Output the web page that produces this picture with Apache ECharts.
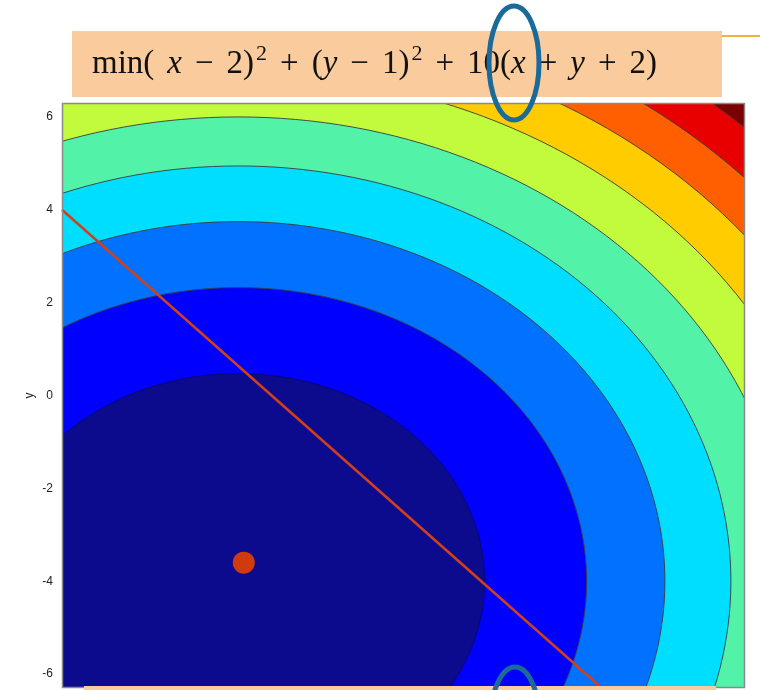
<!DOCTYPE html>
<html>
<head>
<meta charset="utf-8">
<title>min (x-2)^2 + (y-1)^2 + 10(x+y+2)</title>
<script src="https://cdn.jsdelivr.net/npm/echarts@6/dist/echarts.min.js"></script>
<style>
  html, body { margin: 0; padding: 0; background: #ffffff; }
  #chart { width: 760px; height: 690px; }
</style>
</head>
<body>
<div id="chart"></div>
<script>
// Contour levels of f(x, y) = (x+3)^2 + (y+4)^2 and the fill of each band
const contourLevels = [20, 40, 60, 80, 100, 120, 140, 160, 180];
const bandColors = ['#0C0B8E', '#0000FF', '#0072FF', '#00DEFF', '#52F2A8',
                    '#C2FA3C', '#FFCC00', '#FF5F00', '#E80000', '#7A0000'];
// centre of the circular level sets
const contourCentre = [-3, -4];
// marked optimum and the constraint line x + y + 2 = 0
const optimumPoint = [[-2.9, -3.6]];
const constraintLine = [[-6.2, 4.0], [3.6, -6.3]];
// y axis tick labels
const yTickValues = [-6, -4, -2, 0, 2, 4, 6];

const chart = echarts.init(document.getElementById('chart'), null, { renderer: 'canvas' });

function renderContours(params, api) {
  const cs = params.coordSys;
  const children = [{
    type: 'rect',
    shape: { x: cs.x, y: cs.y, width: cs.width, height: cs.height },
    style: { fill: bandColors[bandColors.length - 1] }
  }];
  const c = contourCentre;
  for (let i = contourLevels.length - 1; i >= 0; i--) {
    const r = Math.sqrt(contourLevels[i]);
    const pts = [];
    const n = 240;
    for (let k = 0; k < n; k++) {
      const t = 2 * Math.PI * k / n;
      pts.push(api.coord([c[0] + r * Math.cos(t), c[1] + r * Math.sin(t)]));
    }
    children.push({
      type: 'polygon',
      shape: { points: pts },
      style: {
        fill: bandColors[i],
        stroke: i === 0 ? 'rgba(10,10,60,0.6)' : 'rgba(60,60,60,0.9)',
        lineWidth: 1
      }
    });
  }
  return { type: 'group', children: children };
}

function renderFrame(params) {
  const cs = params.coordSys;
  return {
    type: 'rect',
    shape: { x: cs.x + 0.5, y: cs.y + 0.5, width: cs.width - 1, height: cs.height - 1 },
    style: { fill: 'none', stroke: '#8a8a8a', lineWidth: 1.5 }
  };
}

const serif = 'Liberation Serif';
const titleText =
  '{r|min(}{v|x}{o|−}{r|2)}{s|2}{o|+}{r|(}{i|y}{o|−}{r|1)}{s|2}{o|+}{r|10(}{i|x}{o|+}{i|y}{o|+}{r|2)}';

const option = {
  backgroundColor: '#ffffff',
  animation: false,
  grid: { left: 62, top: 103, width: 683, height: 585, show: false },
  xAxis: {
    type: 'value', min: -6.2, max: 6.2,
    show: false
  },
  yAxis: {
    type: 'value', min: -6.3, max: 6.3,
    name: 'y', nameLocation: 'middle', nameGap: 26, nameRotate: 90,
    nameMoveOverlap: false,
    nameTextStyle: { fontFamily: 'Liberation Sans', fontSize: 12, color: '#222' },
    axisLine: { show: false },
    axisTick: { show: false },
    splitLine: { show: false },
    axisLabel: {
      customValues: yTickValues,
      fontFamily: 'Liberation Sans', fontSize: 12, color: '#222', margin: 9
    }
  },
  series: [
    {
      type: 'custom', name: 'contours', clip: true, z: 1,
      data: [[0, 0]],
      renderItem: renderContours,
      silent: true
    },
    {
      type: 'line', name: 'constraint', data: constraintLine, z: 3,
      showSymbol: false, clip: true,
      lineStyle: { color: '#D2401A', width: 2.5 }
    },
    {
      type: 'scatter', name: 'optimum', data: optimumPoint, z: 4,
      symbolSize: 22,
      itemStyle: { color: '#D03A0C', opacity: 1 }
    },
    {
      type: 'custom', name: 'frame', z: 5,
      data: [[0, 0]],
      renderItem: renderFrame,
      silent: true
    }
  ],
  graphic: [
    { type: 'line', z: 10, shape: { x1: 722, y1: 36, x2: 760, y2: 36 },
      style: { stroke: '#F2B33D', lineWidth: 2 } },
    { type: 'rect', z: 10, shape: { x: 72, y: 31, width: 650, height: 66 },
      style: { fill: '#FACB9C' } },
    { type: 'text', z: 11, x: 92, y: 64,
      style: {
        text: titleText,
        align: 'left', verticalAlign: 'middle',
        fill: '#111',
        rich: {
          r: { fontFamily: serif, fontSize: 33, color: '#111', lineHeight: 42 },
          i: { fontFamily: serif, fontSize: 33, fontStyle: 'italic', color: '#111', lineHeight: 42 },
          v: { fontFamily: serif, fontSize: 33, fontStyle: 'italic', color: '#111', lineHeight: 42,
               padding: [0, 0, 0, 13] },
          o: { fontFamily: serif, fontSize: 33, color: '#111', padding: [0, 13, 0, 13], lineHeight: 42 },
          s: { fontFamily: serif, fontSize: 22, color: '#111', verticalAlign: 'top', lineHeight: 42,
               padding: [0, 0, 0, 2] }
        }
      } },
    { type: 'rect', z: 10, shape: { x: 84, y: 686, width: 632, height: 10 },
      style: { fill: '#FACB9C' } },
    { type: 'ellipse', z: 12, shape: { cx: 514, cy: 63, rx: 25, ry: 57 },
      style: { fill: 'none', stroke: '#1A6A9A', lineWidth: 5 } },
    { type: 'ellipse', z: 12, shape: { cx: 515, cy: 724, rx: 25, ry: 57 },
      style: { fill: 'none', stroke: '#1A6A9A', lineWidth: 5 } }
  ]
};

chart.setOption(option);
</script>
</body>
</html>
